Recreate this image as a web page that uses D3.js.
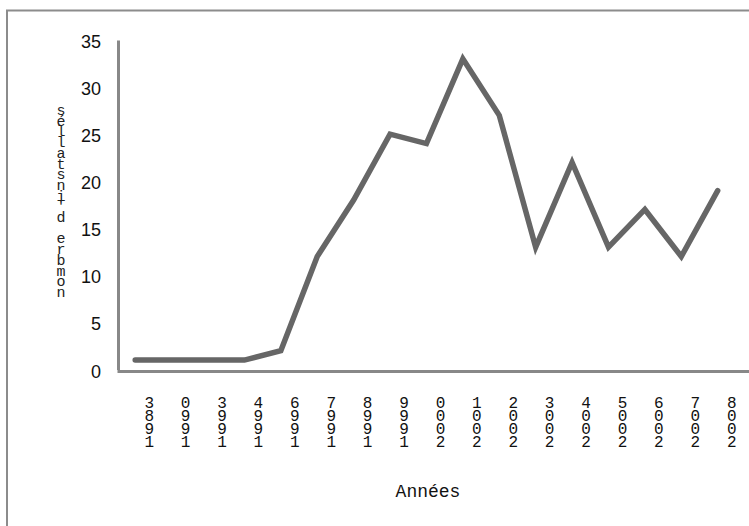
<!DOCTYPE html>
<html>
<head>
<meta charset="utf-8">
<script src="https://cdn.jsdelivr.net/npm/d3@7/dist/d3.min.js"></script>
<style>
  html, body { margin: 0; padding: 0; background: #fff; }
  svg { display: block; }
</style>
</head>
<body>
<script>
// Years on the horizontal axis and the yearly counts
const categories = ["1983","1990","1993","1994","1996","1997","1998","1999","2000","2001","2002","2003","2004","2005","2006","2007","2008"];
const values = [1, 1, 1, 1, 2, 12, 18, 25, 24, 33, 27, 13, 22, 13, 17, 12, 19];
const yTicks = [0, 5, 10, 15, 20, 25, 30, 35];
const xTitle = "Années";
const yTitle = "nombre d'installés";

const W = 749, H = 526;
const svg = d3.select("body").append("svg").attr("width", W).attr("height", H);

// outer frame of the chart area (runs past the right and bottom edges)
svg.append("rect")
  .attr("x", 7).attr("y", 10.5)
  .attr("width", 800).attr("height", 600)
  .attr("fill", "none").attr("stroke", "#8c8c8c").attr("stroke-width", 2);

const x = d3.scaleBand()
  .domain(categories)
  .range([117, 749])
  .paddingInner(0)
  .paddingOuter(0.18)
  .align(0);

const y = d3.scaleLinear().domain([0, 35]).range([369.5, 40]);

const axisColor = "#888";

// vertical axis with plain numeric labels
const gy = svg.append("g").attr("transform", "translate(118,0)")
  .call(d3.axisLeft(y).tickValues(yTicks).tickSize(0).tickSizeOuter(0).tickPadding(17));
gy.select(".domain").attr("stroke", axisColor).attr("stroke-width", 3);
gy.selectAll(".tick text")
  .attr("font-family", "'Liberation Sans', Arial, sans-serif")
  .attr("font-size", 18)
  .attr("fill", "#111")
  .attr("dy", "0.42em");

// horizontal axis; year labels are stacked one digit per row, read bottom to top
const gx = svg.append("g").attr("transform", "translate(0,371)")
  .call(d3.axisBottom(x).tickSize(0).tickSizeOuter(0).tickFormat(""));
gx.select(".domain").attr("stroke", axisColor).attr("stroke-width", 3);
gx.selectAll(".tick text").each(function(d) {
  const t = d3.select(this)
    .attr("font-family", "'Liberation Mono', 'Courier New', monospace")
    .attr("font-size", 16)
    .attr("fill", "#111")
    .attr("text-anchor", "middle")
    .attr("y", 0).attr("dy", 0);
  d.split("").forEach((c, i) => {
    t.append("tspan").attr("x", 14).attr("y", 76 - i * 12.9).text(c);
  });
});

// axis titles
svg.append("text")
  .attr("x", 428).attr("y", 497)
  .attr("text-anchor", "middle")
  .attr("font-family", "'Liberation Mono', 'Courier New', monospace")
  .attr("font-size", 18)
  .attr("fill", "#111")
  .text(xTitle);

// the vertical title is stacked one character per row, read bottom to top
const yt = svg.append("text")
  .attr("font-family", "'Liberation Mono', 'Courier New', monospace")
  .attr("font-size", 15)
  .attr("fill", "#222")
  .attr("text-anchor", "middle");
yTitle.split("").forEach((c, i, arr) => {
  yt.append("tspan").attr("x", 61).attr("y", 297 - i * (182 / (arr.length - 1))).text(c);
});

// data line
const line = d3.line()
  .x((d, i) => x(categories[i]) + x.bandwidth() / 2)
  .y(d => y(d));

svg.append("path")
  .datum(values)
  .attr("d", line)
  .attr("fill", "none")
  .attr("stroke", "#666")
  .attr("stroke-width", 5.5)
  .attr("stroke-linejoin", "miter")
  .attr("stroke-linecap", "round");
</script>
</body>
</html>
